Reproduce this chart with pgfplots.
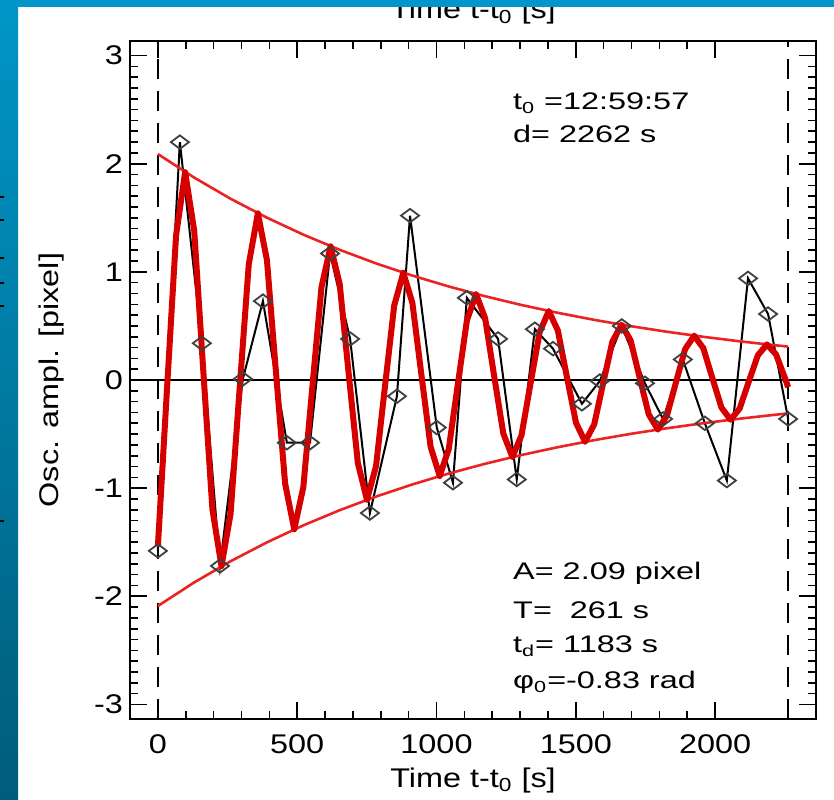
\documentclass[border=0pt]{standalone}
\usepackage{fontspec}
\setmainfont{Liberation Sans}[FakeStretch=1.2]
\newfontfamily\annfont{Liberation Sans}[FakeStretch=1.35]
\usepackage{pgfplots}
\usepackage{pgfplotstable}
\pgfplotsset{compat=1.18}

\definecolor{stripTop}{RGB}{0,150,200}
\definecolor{stripBot}{RGB}{0,92,122}
\definecolor{fitred}{RGB}{215,0,0}
\definecolor{envred}{RGB}{235,35,35}

% observed oscillation (diamonds)
\pgfplotstableread{
t y
0 -1.58
79 2.20
158 0.34
223 -1.72
305 0.01
377 0.73
463 -0.58
546 -0.58
618 1.17
690 0.38
761 -1.23
858 -0.15
905 1.52
1001 -0.44
1059 -0.95
1109 0.76
1221 0.38
1288 -0.92
1353 0.47
1418 0.29
1522 -0.22
1586 -0.01
1665 0.50
1748 -0.03
1813 -0.36
1884 0.19
1963 -0.40
2042 -0.93
2118 0.94
2190 0.61
2262 -0.36
}\obsdata

% damped sine fit, A=2.09, T=261, td=1183, phi0=-0.83
\pgfplotstableread{
t y
0 -1.5422
32.625 -0.0907
65.25 1.3348
97.875 1.9221
130.5 1.3811
163.125 0.0812
195.75 -1.1954
228.375 -1.7214
261 -1.2369
293.625 -0.0727
326.25 1.0706
358.875 1.5416
391.5 1.1077
424.125 0.0651
456.75 -0.9588
489.375 -1.3806
522 -0.9920
554.625 -0.0583
587.25 0.8586
619.875 1.2364
652.5 0.8884
685.125 0.0522
717.75 -0.7690
750.375 -1.1073
783 -0.7956
815.625 -0.0468
848.25 0.6887
880.875 0.9917
913.5 0.7125
946.125 0.0419
978.75 -0.6167
1011.375 -0.8881
1044 -0.6381
1076.625 -0.0375
1109.25 0.5523
1141.875 0.7953
1174.5 0.5715
1207.125 0.0336
1239.75 -0.4946
1272.375 -0.7123
1305 -0.5118
1337.625 -0.0301
1370.25 0.4430
1402.875 0.6379
1435.5 0.4584
1468.125 0.0270
1500.75 -0.3967
1533.375 -0.5713
1566 -0.4105
1598.625 -0.0241
1631.25 0.3553
1663.875 0.5116
1696.5 0.3676
1729.125 0.0216
1761.75 -0.3182
1794.375 -0.4582
1827 -0.3292
1859.625 -0.0194
1892.25 0.2850
1924.875 0.4103
1957.5 0.2948
1990.125 0.0173
2022.75 -0.2552
2055.375 -0.3675
2088 -0.2640
2120.625 -0.0155
2153.25 0.2285
2185.875 0.3291
2218.5 0.2365
2251.125 0.0139
2262 -0.0666
}\fitdata

% envelope A*exp(-t/td)
\pgfplotstableread{
t y
0 2.0900
130.5 1.8717
261 1.6762
391.5 1.5012
522 1.3444
652.5 1.2040
783 1.0783
913.5 0.9656
1044 0.8648
1174.5 0.7745
1305 0.6936
1435.5 0.6212
1566 0.5563
1696.5 0.4982
1827 0.4462
1957.5 0.3996
2088 0.3578
2218.5 0.3205
2262 0.3089
}\envdata

\begin{document}
\begin{tikzpicture}
% cut-off title of the panel above
\node[anchor=base, font=\fontsize{13.5}{14}\selectfont] at (236.5pt,390pt) {Time t-t\textsubscript{0} [s]};

\begin{axis}[
  at={(65pt,40pt)}, anchor=south west,
  scale only axis, width=343pt, height=339pt,
  xmin=-100, xmax=2362, ymin=-3.135, ymax=3.135,
  xtick={0,500,1000,1500,2000}, minor x tick num=4,
  ytick={-3,-2,-1,0,1,2,3}, minor y tick num=9,
  tick align=inside,
  major tick length=8.5pt, minor tick length=4pt,
  axis line style={line width=1pt},
  every tick/.style={black, line width=0.8pt},
  tick label style={font=\fontsize{13.5}{14}\selectfont},
  xticklabel style={yshift=-4.5pt},
  /pgf/number format/assume math mode=true,
  /pgf/number format/1000 sep={},
  xlabel={Time t-t\textsubscript{0} [s]},
  ylabel={Osc. ampl. [pixel]},
  label style={font=\fontsize{13.5}{14}\selectfont},
  xlabel style={at={(axis description cs:0.5,0)}, anchor=base, yshift=-34pt},
  ylabel style={at={(axis description cs:0,0.5)}, anchor=center, rotate=0, yshift=39pt},
]
\addplot[black, line width=0.6pt] coordinates {(-100,0) (2362,0)};
\addplot[black, line width=1pt, dash pattern=on 10pt off 6pt] coordinates {(0,-3.135) (0,3.135)};
\addplot[black, line width=1pt, dash pattern=on 10pt off 6pt] coordinates {(2262,-3.135) (2262,3.135)};

\addplot[black, line width=1pt] table[x=t, y=y] {\obsdata};
\addplot[envred, line width=1.3pt] table[x=t, y=y] {\envdata};
\addplot[envred, line width=1.3pt] table[x=t, y expr=-\thisrow{y}] {\envdata};
\addplot[fitred, line width=3pt, line join=round] table[x=t, y=y] {\fitdata};
\addplot[only marks, mark=diamond, mark size=4.5pt,
  mark options={rotate=90, fill=white, draw=black!75, line width=0.9pt}]
  table[x=t, y=y] {\obsdata};

\node[anchor=base west, font=\annfont\fontsize{12}{13}\selectfont] at (axis cs:1250,2.497) {t\textsubscript{0} =12:59:57};
\node[anchor=base west, font=\annfont\fontsize{12}{13}\selectfont] at (axis cs:1250,2.192) {d= 2262 s};
\node[anchor=base west, font=\annfont\fontsize{12}{13}\selectfont] at (axis cs:1250,-1.849) {A= 2.09 pixel};
\node[anchor=base west, font=\annfont\fontsize{12}{13}\selectfont] at (axis cs:1250,-2.210) {T=~~261 s};
\node[anchor=base west, font=\annfont\fontsize{12}{13}\selectfont] at (axis cs:1250,-2.524) {t\textsubscript{d}= 1183 s};
\node[anchor=base west, font=\annfont\fontsize{12}{13}\selectfont] at (axis cs:1250,-2.857) {φ\textsubscript{0}=-0.83 rad};
\end{axis}

% frame strips
\shade[top color=stripTop, bottom color=stripBot] (0pt,0pt) rectangle (9pt,399.5pt);
\fill[stripTop] (0pt,396pt) rectangle (417pt,399.5pt);
\foreach \yy in {301,289.5,270.5,258,246.5,139}
  \draw[black, line width=1.2pt] (0pt,\yy pt) -- (2pt,\yy pt);

\pgfresetboundingbox
\useasboundingbox (0pt,0pt) rectangle (417pt,399.5pt);
\end{tikzpicture}
\end{document}
